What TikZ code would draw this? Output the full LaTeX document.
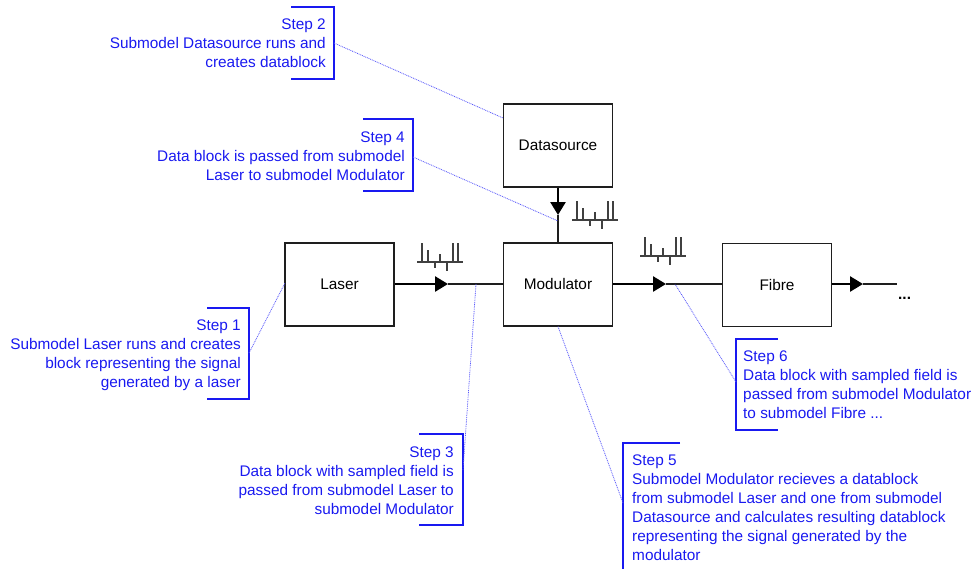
\documentclass[tikz,border=0pt]{standalone}
\usepackage{fontspec}
\setmainfont{Liberation Sans}
\usetikzlibrary{arrows.meta}
\definecolor{stepblue}{RGB}{25,25,240}
\definecolor{leaderblue}{RGB}{90,90,250}
\definecolor{wire}{RGB}{30,30,30}
\tikzset{
  block/.style={draw=wire, line width=1.1pt, minimum width=109pt, minimum height=83pt,
    inner sep=0pt, font=\fontsize{15.36}{19}\selectfont},
  flowhead/.style={line width=2.6pt, draw=black, -{Triangle[length=13pt 0,width=15pt 0]}},
  flowtail/.style={line width=1.2pt, draw=wire},
  bracket/.style={draw=stepblue, line width=1.3pt},
  leader/.style={draw=leaderblue, line width=0.8pt, dash pattern=on 0.9pt off 0.9pt},
  steptext/.style={text=stepblue, inner sep=0pt, font=\fontsize{15.36}{19}\selectfont},
  samples/.pic={
    \draw[line width=1.1pt, draw=black!75]
      (0,0) -- (46,0)
      (5,0) -- (5,-19) (11,0) -- (11,-12) (18,0) -- (18,6)
      (23,0) -- (23,-8) (30,0) -- (30,9) (36,0) -- (36,-19) (41,0) -- (41,-19);
  }
}
\begin{document}
\begin{tikzpicture}[x=1pt, y=-1pt]
\useasboundingbox (0,0) rectangle (976,568);

% processing blocks
\node[block] (laser) at (339.5,284.5) {Laser};
\node[block] (mod) at (558,284.5) {Modulator};
\node[block] (fibre) at (777,285) {Fibre};
\node[block] (src) at (558,145.5) {Datasource};

% signal path with arrow heads half-way
\coordinate (a1) at (448,284);
\coordinate (a2) at (666,284);
\coordinate (a3) at (863,284);
\coordinate (a4) at (558,215);
\coordinate (out) at (897,284);
\draw[flowhead] (laser.east |- a1) -- (a1);
\draw[flowtail] (a1) -- (mod.west |- a1);
\draw[flowhead] (mod.east |- a2) -- (a2);
\draw[flowtail] (a2) -- (fibre.west |- a2);
\draw[flowhead] (fibre.east |- a3) -- (a3);
\draw[flowtail] (a3) -- (out);
\draw[flowhead] (src.south) -- (a4);
\draw[flowtail] (a4) -- (mod.north);
\node[anchor=base west, inner sep=0pt, font=\fontsize{15.36}{19}\selectfont\bfseries] (more) at (898,299) {...};

% sampled data blocks on the links
\pic at (417,262) {samples};
\pic at (572,220) {samples};
\pic at (640,256) {samples};

% step 2 (node base = baseline of the last line)
\draw[bracket] (291,7) -| (334,79) -- (291,79);
\node[steptext, anchor=base east, align=right] (s2) at (326,67.5)
  {Step 2\\Submodel Datasource runs and\\creates datablock};
\coordinate (s2p) at (334,43);
\coordinate (s2q) at (503,118);
\draw[leader] (s2p) -- (s2q);

% step 4
\draw[bracket] (363,119) -| (413,191) -- (363,191);
\node[steptext, anchor=base east, align=right] (s4) at (405,180)
  {Step 4\\Data block is passed from submodel\\Laser to submodel Modulator};
\coordinate (s4p) at (413,157);
\coordinate (s4q) at (558,221);
\draw[leader] (s4p) -- (s4q);

% step 1
\draw[bracket] (207,308) -| (249,399) -- (207,399);
\node[steptext, anchor=base east, align=right] (s1) at (241,387.5)
  {Step 1\\Submodel Laser runs and creates\\block representing the signal\\generated by a laser};
\coordinate (s1p) at (249,353);
\coordinate (s1q) at (285,283);
\draw[leader] (s1p) -- (s1q);

% step 3
\draw[bracket] (419,434) -| (463,525) -- (419,525);
\node[steptext, anchor=base east, align=right] (s3) at (454,514)
  {Step 3\\Data block with sampled field is\\passed from submodel Laser to\\submodel Modulator};
\coordinate (s3p) at (463,470);
\coordinate (s3q) at (476,284);
\draw[leader] (s3p) -- (s3q);

% step 6
\draw[bracket] (778,339) -| (736,430) -- (778,430);
\node[steptext, anchor=base west, align=left] (s6) at (743,418)
  {Step 6\\Data block with sampled field is\\passed from submodel Modulator\\to submodel Fibre ...};
\coordinate (s6p) at (736,382);
\coordinate (s6q) at (675,284);
\draw[leader] (s6p) -- (s6q);

% step 5
\draw[bracket] (680,443) -| (623,575);
\node[steptext, anchor=base west, align=left] (s5) at (632,560.5)
  {Step 5\\Submodel Modulator recieves a datablock\\from submodel Laser and one from submodel\\Datasource and calculates resulting datablock\\representing the signal generated by the\\modulator};
\coordinate (s5p) at (623,503);
\coordinate (s5q) at (mod.south);
\draw[leader] (s5p) -- (s5q);
\end{tikzpicture}
\end{document}
